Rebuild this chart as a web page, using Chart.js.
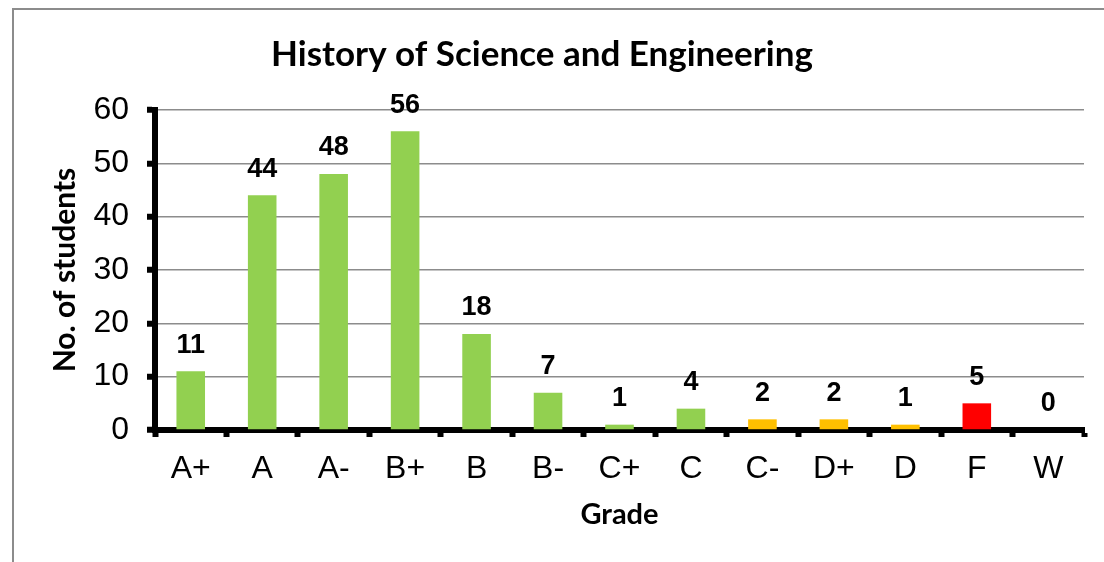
<!DOCTYPE html>
<html>
<head>
<meta charset="utf-8">
<script src="https://cdn.jsdelivr.net/npm/chart.js@4"></script>
<style>
  html, body { margin: 0; padding: 0; background: #fff; overflow: hidden; }
  #wrap { position: relative; width: 1104px; height: 562px; }
  #frame { position: absolute; left: 12px; top: 8px; width: 1200px; height: 700px; border: 2px solid #8c8c8c; box-sizing: border-box; }
  canvas { position: absolute; left: 0; top: 0; }
</style>
</head>
<body>
<div id="wrap">
  <div id="frame"></div>
  <canvas id="gradeChart" width="1104" height="562"></canvas>
</div>
<script>
// grade distribution
const grades = ['A+', 'A', 'A-', 'B+', 'B', 'B-', 'C+', 'C', 'C-', 'D+', 'D', 'F', 'W'];
const students = [11, 44, 48, 56, 18, 7, 1, 4, 2, 2, 1, 5, 0];
const barColors = ['#92d050', '#92d050', '#92d050', '#92d050', '#92d050', '#92d050', '#92d050', '#92d050',
                   '#ffc000', '#ffc000', '#ffc000', '#ff0000', '#92d050'];
const yTicks = [0, 10, 20, 30, 40, 50, 60];

// value labels above the bars
const valueLabels = {
  id: 'valueLabels',
  afterDatasetsDraw(chart) {
    const ctx = chart.ctx;
    const meta = chart.getDatasetMeta(0);
    ctx.save();
    ctx.font = 'bold 27px "Liberation Sans", Arial, sans-serif';
    ctx.fillStyle = '#000';
    ctx.textAlign = 'center';
    ctx.textBaseline = 'middle';
    meta.data.forEach((bar, i) => {
      ctx.fillText(String(students[i]), bar.x, bar.y - 26);
    });
    ctx.restore();
  }
};

new Chart(document.getElementById('gradeChart'), {
  type: 'bar',
  data: {
    labels: grades,
    datasets: [{
      data: students,
      backgroundColor: barColors,
      barPercentage: 0.4,
      categoryPercentage: 1.0
    }]
  },
  options: {
    responsive: false,
    animation: false,
    layout: { padding: { left: 0, right: 20, top: 0, bottom: 0 } },
    plugins: {
      legend: { display: false },
      tooltip: { enabled: false },
      title: {
        display: true,
        text: 'History of Science and Engineering',
        color: '#000',
        font: { family: 'Lato, "Open Sans", sans-serif', size: 35, weight: 'bold', lineHeight: 1.2 },
        padding: { top: 34, bottom: 34 }
      }
    },
    scales: {
      x: {
        grid: {
          display: true,
          offset: true,
          drawOnChartArea: false,
          drawTicks: true,
          tickLength: 7,
          tickWidth: 6,
          tickColor: '#000'
        },
        border: { color: '#000', width: 6 },
        ticks: {
          color: '#000',
          font: { family: '"Liberation Sans", Arial, sans-serif', size: 32 },
          padding: 13,
          maxRotation: 0
        },
        title: {
          display: true,
          text: 'Grade',
          color: '#000',
          font: { family: 'Lato, "Open Sans", sans-serif', size: 29, weight: 'bold' },
          padding: { top: 4, bottom: 30 }
        },
        afterFit(scale) { scale.height = 132; }
      },
      y: {
        min: 0,
        max: 60,
        afterBuildTicks(scale) { scale.ticks = yTicks.map(v => ({ value: v })); },
        grid: {
          color: '#8c8c8c',
          lineWidth: 1.5,
          drawTicks: true,
          tickLength: 8,
          tickWidth: 6,
          tickColor: '#000'
        },
        border: { color: '#000', width: 6 },
        ticks: {
          color: '#000',
          font: { family: '"Liberation Sans", Arial, sans-serif', size: 32 },
          padding: 18
        },
        title: {
          display: true,
          text: 'No. of students',
          color: '#000',
          font: { family: 'Lato, "Open Sans", sans-serif', size: 30, weight: 'bold' },
          padding: { top: 47, bottom: 0 }
        },
        afterFit(scale) { scale.width = 155; }
      }
    }
  },
  plugins: [valueLabels]
});
</script>
</body>
</html>
